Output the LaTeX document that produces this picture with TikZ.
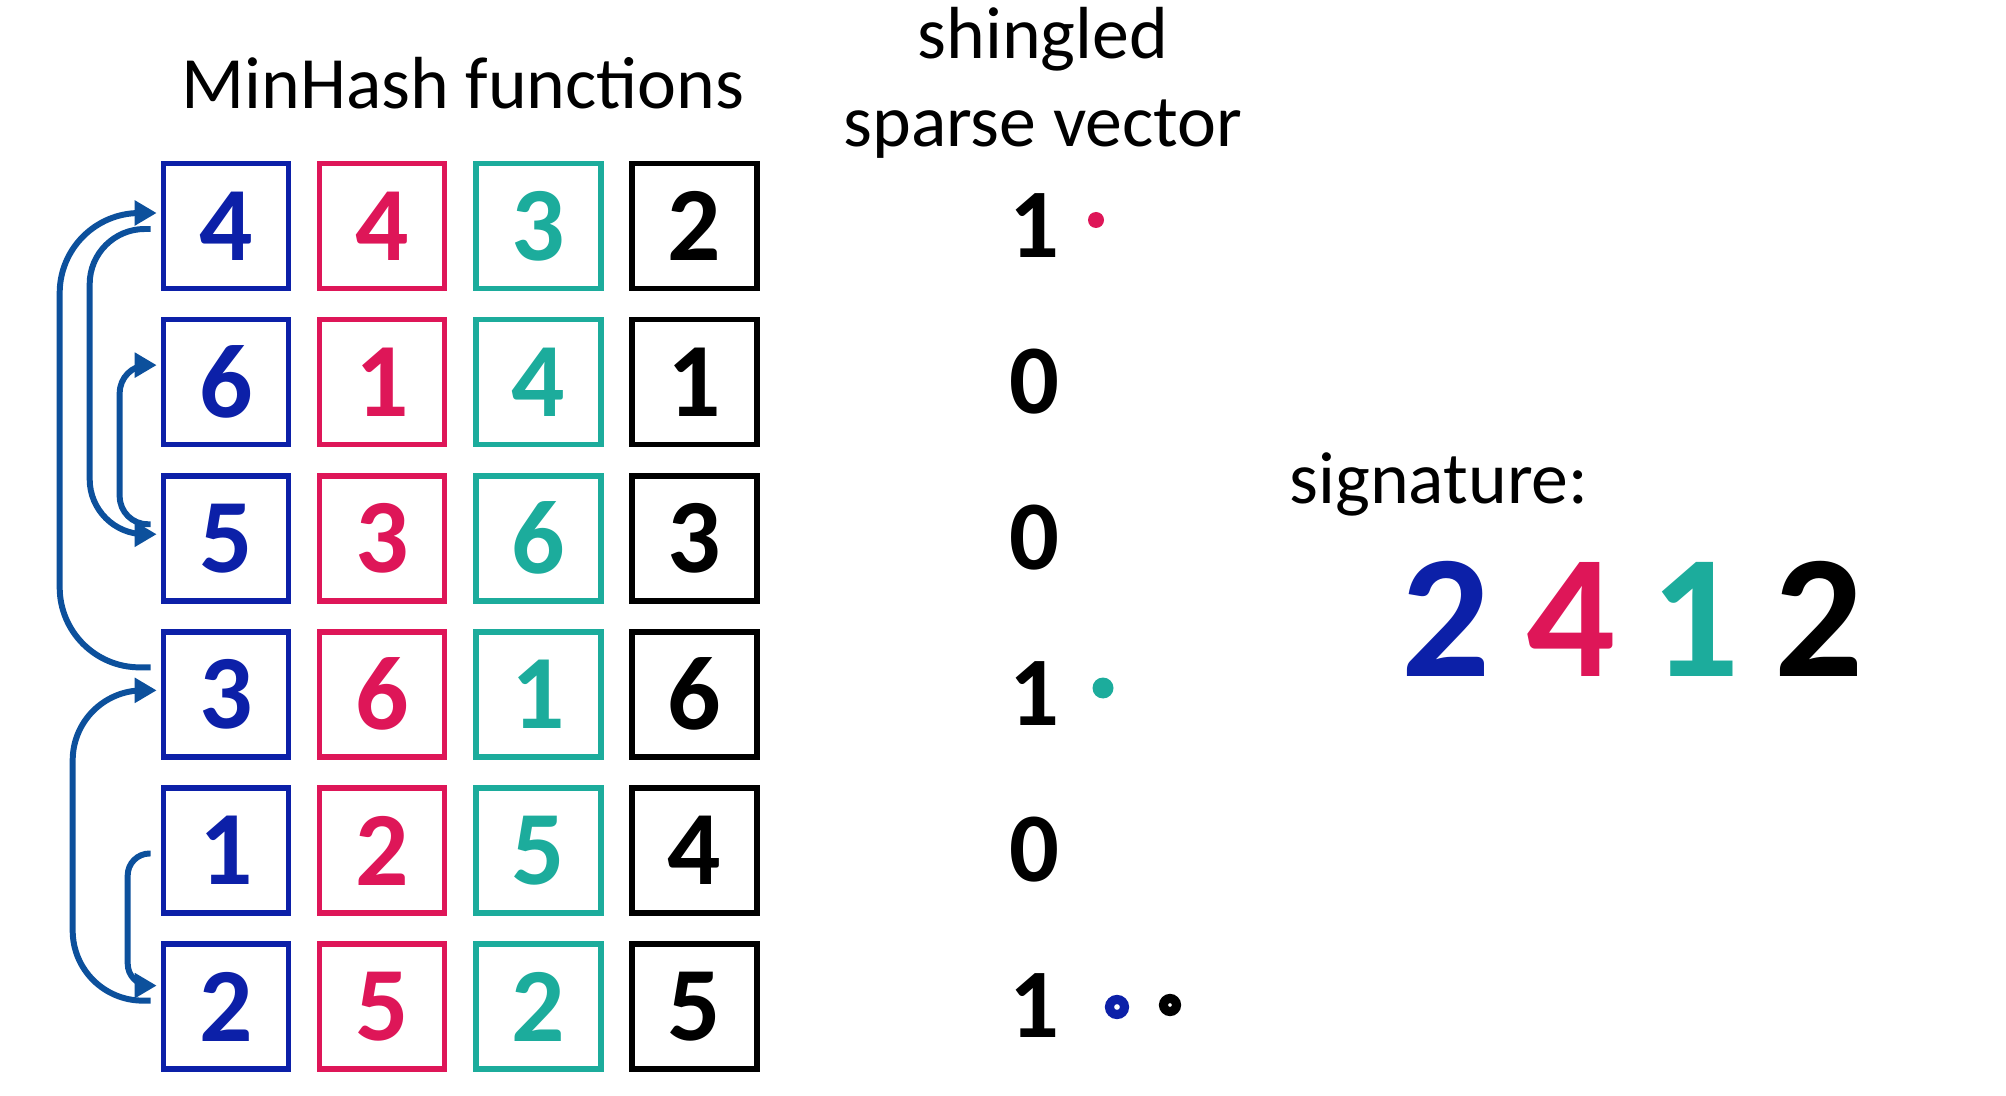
\documentclass[tikz,border=0pt]{standalone}
\usepackage{fontspec}
\setmainfont{Carlito}
\usetikzlibrary{arrows.meta,positioning}

\definecolor{mhblue}{RGB}{12,32,168}
\definecolor{mhred}{RGB}{222,22,88}
\definecolor{mhteal}{RGB}{28,172,156}
\definecolor{mharrow}{RGB}{12,80,156}

\begin{document}
\begin{tikzpicture}[
  x=0.1mm,y=0.1mm,
  box/.style={draw,line width=1.6pt,minimum size=12.5mm,inner sep=0pt,
              font=\fontsize{30}{30}\selectfont\bfseries},
  bluebox/.style={box,draw=mhblue,text=mhblue},
  redbox/.style={box,draw=mhred,text=mhred},
  tealbox/.style={box,draw=mhteal,text=mhteal},
  blackbox/.style={box,draw=black,text=black},
  bit/.style={font=\fontsize{28}{28}\selectfont\bfseries},
  heading/.style={font=\fontsize{21}{25}\selectfont,align=center},
  sigdigit/.style={font=\fontsize{50}{50}\selectfont\bfseries},
  dot/.style={circle,inner sep=0pt,minimum size=1.6mm},
  ring/.style={circle,draw,line width=2.6pt,inner sep=0pt,minimum size=1.5mm},
  arr/.style={-{Triangle[length=2.2mm,width=2.4mm]},line width=1.7pt,mharrow},
  node distance=2.55mm,
]
\useasboundingbox (0,0) rectangle (2006,1095);

%% ---- Headings --------------------------------------------------------------
\node[heading] (mh) at (463,1012) {MinHash functions};
\node[heading] (sv) at (1043,1012) {shingled\\sparse vector};

%% ---- MinHash columns -------------------------------------------------------
\node[bluebox] (b11) at (226,869) {4};
\node[redbox,   right=of b11] (b12) {4};
\node[tealbox,  right=of b12] (b13) {3};
\node[blackbox, right=of b13] (b14) {2};

\node[bluebox,  below=of b11] (b21) {6};
\node[redbox,   right=of b21] (b22) {1};
\node[tealbox,  right=of b22] (b23) {4};
\node[blackbox, right=of b23] (b24) {1};

\node[bluebox,  below=of b21] (b31) {5};
\node[redbox,   right=of b31] (b32) {3};
\node[tealbox,  right=of b32] (b33) {6};
\node[blackbox, right=of b33] (b34) {3};

\node[bluebox,  below=of b31] (b41) {3};
\node[redbox,   right=of b41] (b42) {6};
\node[tealbox,  right=of b42] (b43) {1};
\node[blackbox, right=of b43] (b44) {6};

\node[bluebox,  below=of b41] (b51) {1};
\node[redbox,   right=of b51] (b52) {2};
\node[tealbox,  right=of b52] (b53) {5};
\node[blackbox, right=of b53] (b54) {4};

\node[bluebox,  below=of b51] (b61) {2};
\node[redbox,   right=of b61] (b62) {5};
\node[tealbox,  right=of b62] (b63) {2};
\node[blackbox, right=of b63] (b64) {5};

%% ---- Sparse vector ---------------------------------------------------------
\node[bit] (v1) at (1034,869) {1};
\node[bit] (v2) at (1034,713) {0};
\node[bit] (v3) at (1034,557) {0};
\node[bit] (v4) at (1034,401) {1};
\node[bit] (v5) at (1034,245) {0};
\node[bit] (v6) at (1034,89)  {1};

%% ---- Marks next to the ones
\node[dot,fill=mhred]  (m1) at (1096,875) {};
\node[dot,fill=mhteal,minimum size=2.1mm] (m4) at (1103,407) {};
\node[ring,draw=mhblue] (m6a) at (1117,88) {};
\node[ring,draw=black,minimum size=1.3mm] (m6b) at (1170,90) {};

%% ---- Signature -------------------------------------------------------------
\node[heading] (sig) at (1439,611) {signature:};
\node[sigdigit,text=mhblue]  (s1) at (1446,476) {2};
\node[sigdigit,text=mhred]   (s2) at (1571,476) {4};
\node[sigdigit,text=mhteal]  (s3) at (1695,476) {1};
\node[sigdigit,text=black]   (s4) at (1819,476) {2};

%% ---- Permutation arrows: 1 -> 2 -> 3 -> 4 -> 5 -> 6
\draw[arr,rounded corners=2.2mm] ([shift={(-10,-3)}]b51.west)
  -| ([shift={(-33,0)}]b51.south west) |- ([shift={(-4,21)}]b61.west);
\draw[arr,rounded corners=7mm] ([shift={(-10,6)}]b61.west)
  -| ([shift={(-88,0)}]b51.west) |- ([shift={(-4,4)}]b41.west);
\draw[arr,rounded corners=8mm] ([shift={(-10,27)}]b41.west)
  -| ([shift={(-101,0)}]b21.south west) |- ([shift={(-4,13)}]b11.west);
\draw[arr,rounded corners=5.5mm] ([shift={(-10,-3)}]b11.west)
  -| ([shift={(-71,0)}]b21.west) |- ([shift={(-4,4)}]b31.west);
\draw[arr,rounded corners=2.8mm] ([shift={(-10,14)}]b31.west)
  -| ([shift={(-41,0)}]b21.south west) |- ([shift={(-4,17)}]b21.west);

\end{tikzpicture}
\end{document}
